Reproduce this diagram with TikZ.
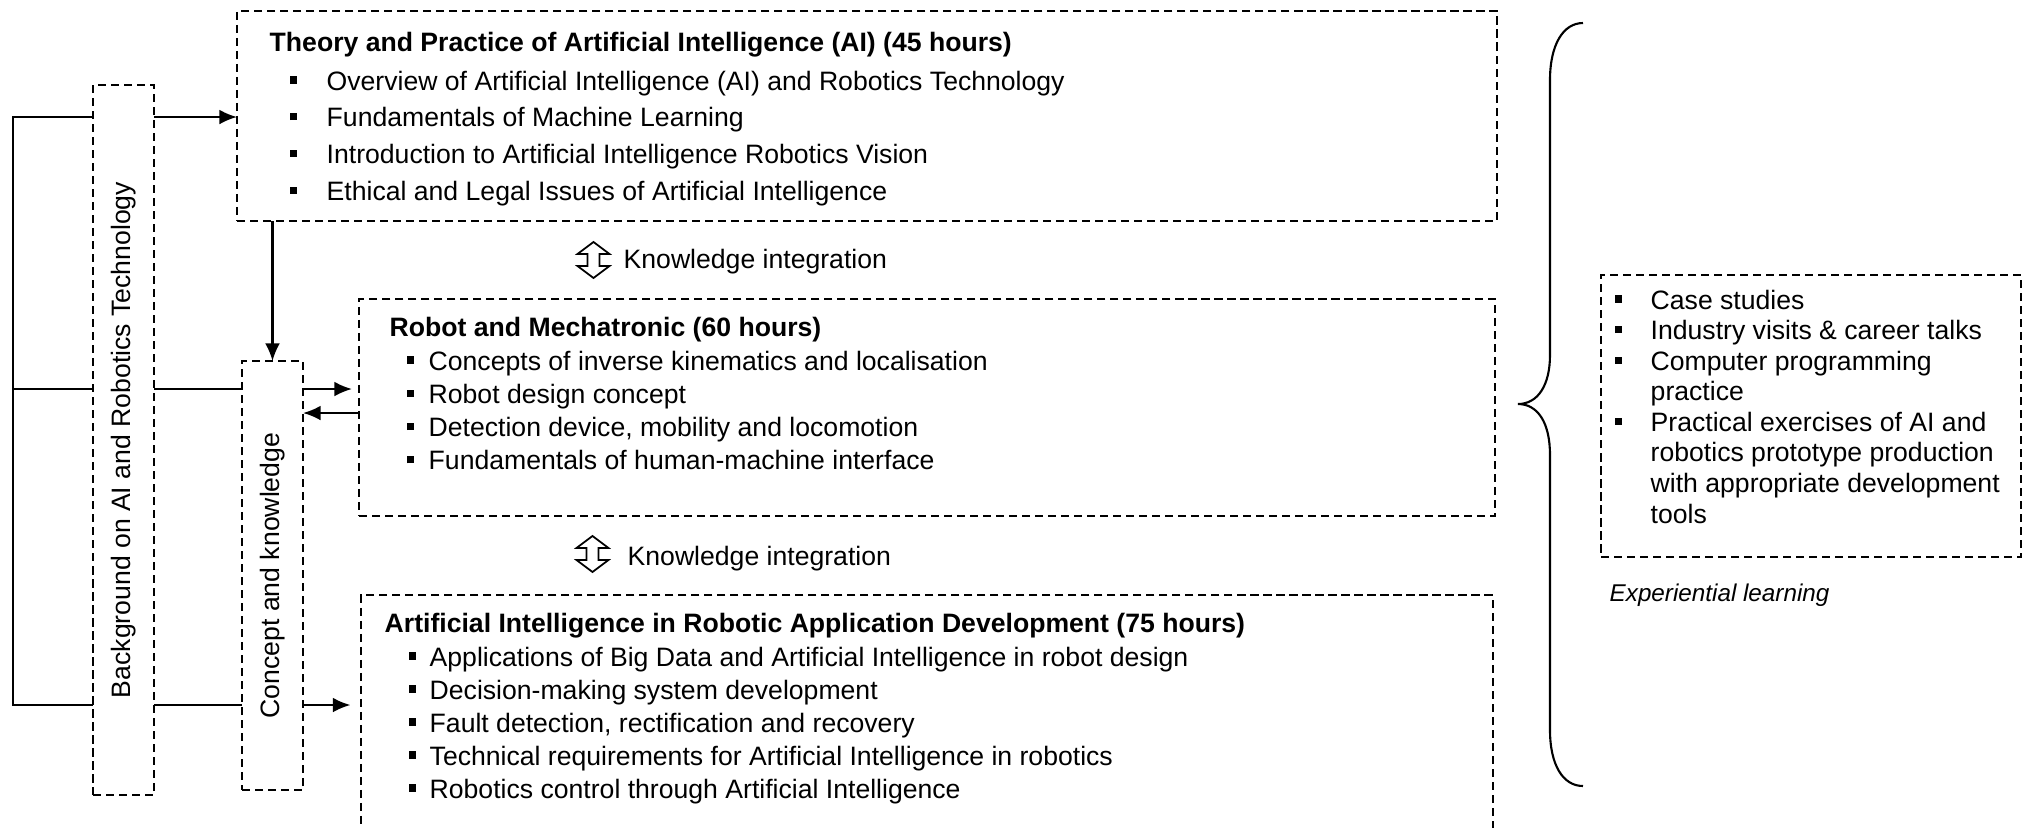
\documentclass[tikz,border=0pt]{standalone}
\usepackage{fontspec}
\setmainfont{Liberation Sans}
\usepackage{tikz}
\usetikzlibrary{positioning,arrows.meta,shapes}

% square bullet and body font with a given line skip
\newcommand{\sqb}{\rule[1.85pt]{2pt}{2pt}}
\newcommand{\fs}[1]{\fontsize{7.57}{#1}\selectfont}

\tikzset{
  box/.style={draw, dash pattern=on 2.3pt off 1.4pt, line width=0.55pt, inner sep=0pt, outer sep=0pt},
  lst/.style={anchor=base west, inner sep=0pt, font=\fs{9.4}},
  head/.style={lst, font=\fs{9.4}\bfseries},
  line/.style={line width=0.6pt},
  arr/.style={line width=0.6pt, -{Latex[length=5pt,width=4.2pt]}},
  kiarrow/.style={draw, line width=0.5pt, fill=white, line join=miter},
}

\begin{document}
\begin{tikzpicture}
\useasboundingbox (0,0) rectangle (20.31,-8.27);
\clip (0,0) rectangle (20.31,-8.27);

% dashed boxes
\node[box, minimum width=12.60cm, minimum height=2.10cm] (theory) at (8.67,-1.16) {};
\node[box, minimum width=11.36cm, minimum height=2.17cm] (robot) at (9.27,-4.075) {};
\node[box, minimum width=11.32cm, minimum height=2.85cm] (airad) at (9.27,-7.375) {};
\node[box, minimum width=4.20cm, minimum height=2.82cm] (exp) at (18.11,-4.16) {};
\node[box, minimum width=0.61cm, minimum height=7.10cm] (bg) at (1.235,-4.40) {};
\node[box, minimum width=0.61cm, minimum height=4.29cm] (concept) at (2.725,-5.755) {};

% rotated labels
\node[rotate=90, font=\fs{9.4}] (bgtext) at (bg) {Background on AI and Robotics Technology};
\node[rotate=90, font=\fs{9.4}] (concepttext) at (concept) {Concept and knowledge};

% course modules
\node[head] (theoryhead) at (2.69,-0.51) {Theory and Practice of Artificial Intelligence (AI) (45 hours)};
\node[lst, font=\fs{10.44}] (theorylist) at (2.89,-0.90) {\begin{tabular}[t]{@{}p{0.37cm}@{}l@{}}
\sqb & Overview of Artificial Intelligence (AI) and Robotics Technology\\
\sqb & Fundamentals of Machine Learning\\
\sqb & Introduction to Artificial Intelligence Robotics Vision\\
\sqb & Ethical and Legal Issues of Artificial Intelligence
\end{tabular}};

\node[head] (robothead) at (3.89,-3.36) {Robot and Mechatronic (60 hours)};
\node[lst, font=\fs{9.48}] (robotlist) at (4.06,-3.70) {\begin{tabular}[t]{@{}p{0.22cm}@{}l@{}}
\sqb & Concepts of inverse kinematics and localisation\\
\sqb & Robot design concept\\
\sqb & Detection device, mobility and locomotion\\
\sqb & Fundamentals of human-machine interface
\end{tabular}};

\node[head] (airadhead) at (3.84,-6.32) {Artificial Intelligence in Robotic Application Development (75 hours)};
\node[lst, font=\fs{9.39}] (airadlist) at (4.08,-6.66) {\begin{tabular}[t]{@{}p{0.21cm}@{}l@{}}
\sqb & Applications of Big Data and Artificial Intelligence in robot design\\
\sqb & Decision-making system development\\
\sqb & Fault detection, rectification and recovery\\
\sqb & Technical requirements for Artificial Intelligence in robotics\\
\sqb & Robotics control through Artificial Intelligence
\end{tabular}};

% experiential learning
\node[lst, font=\fs{8.7}] (explist) at (16.14,-3.09) {\begin{tabular}[t]{@{}p{0.36cm}@{}l@{}}
\sqb & Case studies\\
\sqb & Industry visits \& career talks\\
\sqb & Computer programming\\
 & practice\\
\sqb & Practical exercises of AI and\\
 & robotics prototype production\\
 & with appropriate development\\
 & tools
\end{tabular}};
\node[lst, font=\fontsize{6.9}{8}\selectfont\itshape] (explabel) at (16.09,-6.01) {Experiential learning};

% knowledge integration marks
\foreach \x/\y in {5.935/-2.60, 5.925/-5.54}
  \draw[kiarrow, shift={(\x,\y)}] (0,0.18) -- (0.16,0.06) -- (0.06,0.06) -- (0.06,-0.06) -- (0.16,-0.06)
    -- (0,-0.18) -- (-0.16,-0.06) -- (-0.06,-0.06) -- (-0.06,0.06) -- (-0.16,0.06) -- cycle;
\node[lst] (kia) at (6.23,-2.68) {Knowledge integration};
\node[lst] (kib) at (6.27,-5.65) {Knowledge integration};

% brace
\draw[line] (15.83,-0.23) .. controls (15.63,-0.23) and (15.50,-0.45) .. (15.50,-0.80)
  -- (15.50,-3.55) .. controls (15.50,-3.85) and (15.38,-4.04) .. (15.18,-4.04)
  .. controls (15.38,-4.04) and (15.50,-4.23) .. (15.50,-4.55)
  -- (15.50,-7.30) .. controls (15.50,-7.65) and (15.63,-7.86) .. (15.83,-7.86);

% connector levels
\coordinate (ya) at (0,-1.17);
\coordinate (yb) at (0,-3.89);
\coordinate (yc) at (0,-7.05);
\coordinate (yd) at (0,-4.13);
\coordinate (rail) at (0.13,0);

\draw[line] (bg.west |- ya) -- (rail |- ya) -- (rail |- yc) -- (bg.west |- yc);
\draw[line] (rail |- yb) -- (bg.west |- yb);
\draw[arr] (bg.east |- ya) -- (theory.west |- ya);
\draw[line] (bg.east |- yb) -- (concept.west |- yb);
\draw[line] (bg.east |- yc) -- (concept.west |- yc);
\draw[arr] (concept.north |- theory.south) -- (concept.north);
\draw[arr, shorten >=2pt] (concept.east |- yb) -- (robot.west |- yb);
\draw[arr] (robot.west |- yd) -- (concept.east |- yd);
\draw[arr, shorten >=3pt] (concept.east |- yc) -- (airad.west |- yc);
\end{tikzpicture}
\end{document}
